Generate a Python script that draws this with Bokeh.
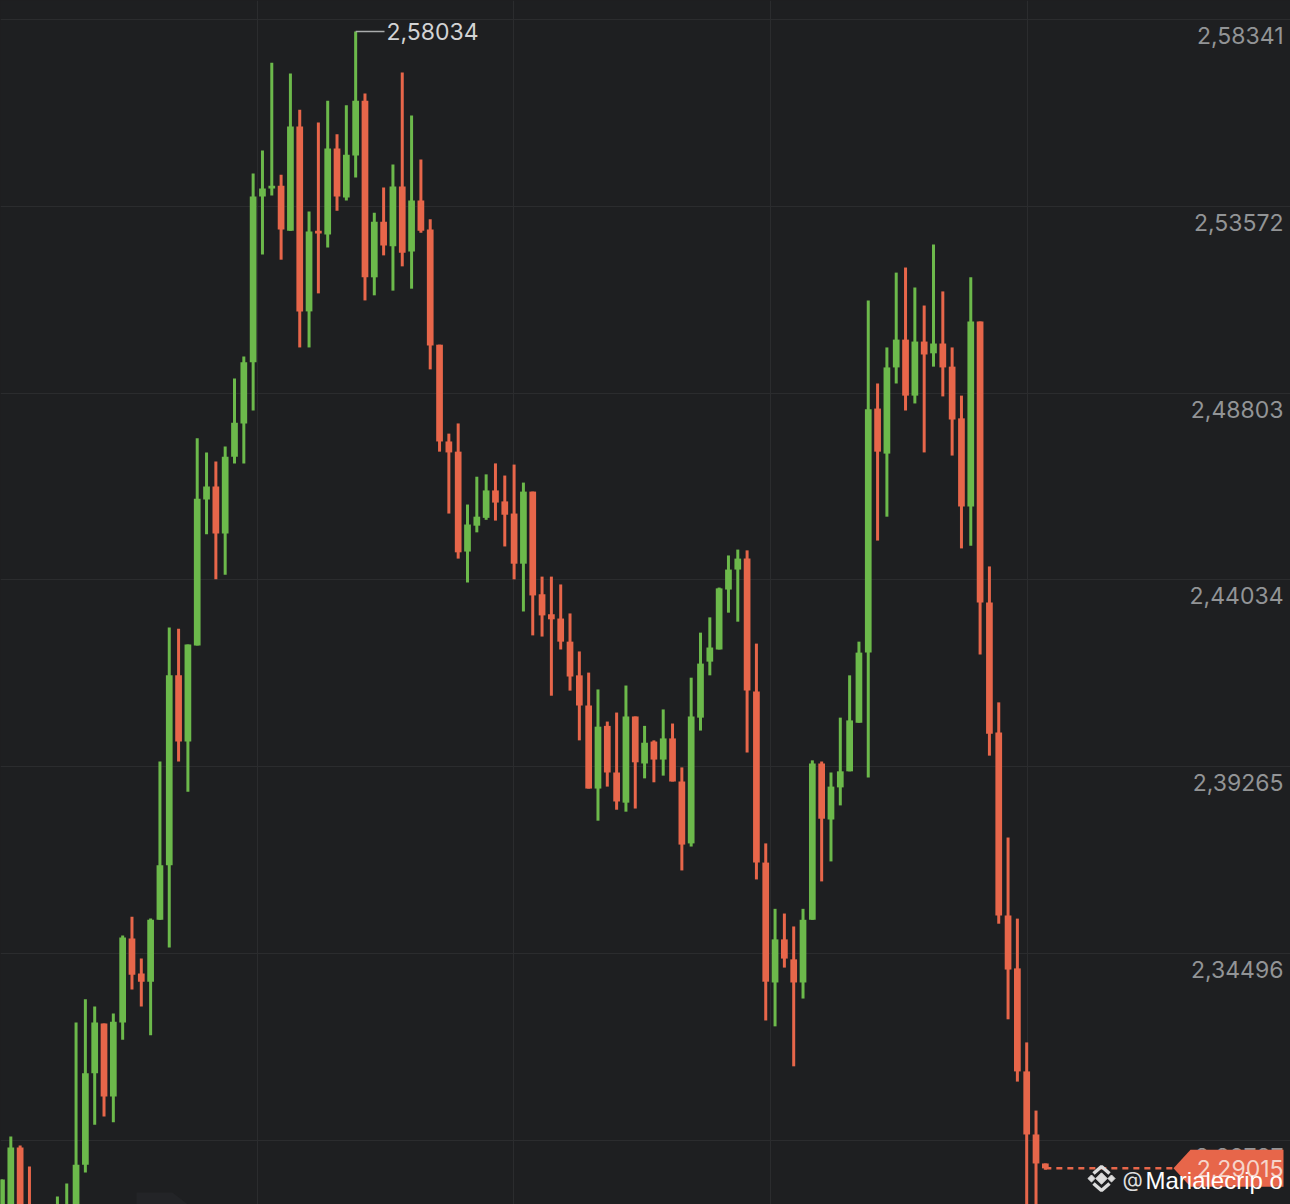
from bokeh.plotting import figure
from bokeh.models import ColumnDataSource, FixedTicker, Range1d
from bokeh.core.properties import value
from bokeh.embed import file_html
from bokeh.resources import INLINE
from math import pi

# ---- chart values (prices) ----
directions = ("GGRRGGGGGG" "GRGGRRGGGR" "GGGRGGGGGG" "RGRGRGRGGR" "GRGRGRRRRR"
              "GGGRRRGRRR" "RRRRGRRGRG" "RGRRGGGGGG" "RRRGRRGGRG" "GGGGRGGRGR"
              "GRRRGRRRRR" "RRR")
highs = [2.2873,2.2983,2.2960,2.2906,2.2781,2.2768,2.2830,2.2863,2.3274,2.3333,
         2.3315,2.3271,2.3297,2.3496,2.3544,2.3437,2.3539,2.3940,2.4282,2.4279,
         2.4239,2.4765,2.4729,2.4706,2.4744,2.4918,2.4974,2.5441,2.5500,2.5724,
         2.5438,2.5696,2.5604,2.5344,2.5571,2.5627,2.5541,2.5615,2.58034,2.5645,
         2.5341,2.5405,2.5464,2.5699,2.5589,2.5477,2.5324,2.5004,2.4777,2.4803,
         2.4596,2.4667,2.4673,2.4701,2.4670,2.4698,2.4652,2.4629,2.4412,2.4412,
         2.4392,2.4318,2.4221,2.4167,2.4124,2.4042,2.4065,2.4134,2.4055,2.4031,
         2.3994,2.4073,2.4037,2.3925,2.4154,2.4269,2.4308,2.4384,2.4466,2.4481,
         2.4479,2.4241,2.3731,2.3564,2.3552,2.3519,2.3564,2.3943,2.3940,2.3912,
         2.4052,2.4160,2.4246,2.5117,2.4905,2.4997,2.5188,2.5201,2.5150,2.5104,
         2.5260,2.5140,2.4997,2.4874,2.5176,2.5063,2.4438,2.4091,2.3746,2.3539,
         2.3223,2.3049,2.2914]
body_tops = [2.2873,2.2955,2.2955,2.2794,2.2768,2.2743,2.2781,2.2794,2.2911,2.3144,
             2.3274,2.3271,2.3276,2.3491,2.3488,2.3399,2.3536,2.3675,2.4160,2.4160,
             2.4239,2.4611,2.4642,2.4642,2.4718,2.4805,2.4959,2.5382,2.5403,2.5410,
             2.5410,2.5561,2.5561,2.5293,2.5295,2.5505,2.5505,2.5489,2.5627,2.5627,
             2.5318,2.5318,2.5408,2.5408,2.5372,2.5372,2.5298,2.5004,2.4757,2.4731,
             2.4545,2.4565,2.4632,2.4632,2.4604,2.4573,2.4629,2.4629,2.4367,2.4316,
             2.4305,2.4246,2.4160,2.4083,2.4029,2.4031,2.3912,2.4055,2.4055,2.3988,
             2.3991,2.3999,2.3999,2.3889,2.4055,2.4190,2.4231,2.4382,2.4430,2.4458,
             2.4458,2.4119,2.3682,2.3486,2.3486,2.3435,2.3536,2.3935,2.3935,2.3876,
             2.3915,2.4045,2.4218,2.4839,2.4841,2.4946,2.5017,2.5017,2.5012,2.5012,
             2.5007,2.5007,2.4948,2.4816,2.5063,2.5063,2.4346,2.4014,2.3547,2.3412,
             2.3149,2.2988,2.2914]
body_bottoms = [2.2794,2.2794,2.2781,2.2768,2.2717,2.2692,2.2730,2.2755,2.2781,2.2911,
                2.3144,2.3085,2.3085,2.3274,2.3396,2.3378,2.3378,2.3536,2.3675,2.3991,
                2.3991,2.4236,2.4609,2.4522,2.4522,2.4718,2.4803,2.4959,2.5382,2.5403,
                2.5298,2.5295,2.5089,2.5089,2.5288,2.5285,2.5382,2.5380,2.5487,2.5176,
                2.5176,2.5257,2.5255,2.5239,2.5242,2.5295,2.5002,2.4757,2.4729,2.4474,
                2.4476,2.4542,2.4562,2.4601,2.4570,2.4445,2.4445,2.4364,2.4313,2.4303,
                2.4246,2.4157,2.4083,2.3871,2.3871,2.3912,2.3838,2.3835,2.3938,2.3935,
                2.3945,2.3945,2.3889,2.3728,2.3731,2.4052,2.4195,2.4226,2.4379,2.4430,
                2.4121,2.3682,2.3378,2.3376,2.3437,2.3376,2.3376,2.3536,2.3794,2.3792,
                2.3874,2.3915,2.4039,2.4218,2.4731,2.4726,2.4946,2.4874,2.4874,2.4979,
                2.4982,2.4946,2.4813,2.4591,2.4591,2.4346,2.4011,2.3547,2.3409,2.3149,
                2.2988,2.2914,2.29015]
lows = [2.2781,2.2781,2.2768,2.2743,2.2692,2.2666,2.2717,2.2743,2.2755,2.2891,
        2.3013,2.3034,2.3019,2.3230,2.3358,2.3315,2.3241,2.3536,2.3465,2.3940,
        2.3863,2.4236,2.4520,2.4405,2.4417,2.4701,2.4701,2.4836,2.5234,2.5385,
        2.5221,2.5295,2.4997,2.4997,2.5135,2.5252,2.5346,2.5372,2.5431,2.5117,
        2.5130,2.5232,2.5142,2.5204,2.5147,2.5290,2.4941,2.4731,2.4573,2.4458,
        2.4397,2.4525,2.4557,2.4555,2.4489,2.4405,2.4323,2.4262,2.4259,2.4108,
        2.4226,2.4121,2.3994,2.3871,2.3789,2.3876,2.3817,2.3812,2.3820,2.3897,
        2.3887,2.3904,2.3889,2.3662,2.3723,2.4019,2.4160,2.4226,2.4320,2.4297,
        2.3963,2.3639,2.3279,2.3264,2.3414,2.3162,2.3335,2.3536,2.3634,2.3685,
        2.3828,2.3915,2.4039,2.3899,2.4504,2.4565,2.4905,2.4836,2.4854,2.4729,
        2.4948,2.4872,2.4721,2.4484,2.4491,2.4213,2.3955,2.3526,2.3282,2.3123,
        2.2781,2.2781,2.2898]

price_ticks = [2.58341, 2.53572, 2.48803, 2.44034, 2.39265, 2.34496, 2.29727]
price_labels = ["2,58341", "2,53572", "2,48803", "2,44034", "2,39265", "2,34496", "2,29727"]
time_ticks = [27.47, 54.98, 82.55, 110.09]
peak_index, peak_price, peak_label = 38, 2.58034, "2,58034"
last_price, last_label = 2.29015, "2,29015"
watermark_at, watermark_name = "@", "Marialecrip o"

# ---- palette and helpers ----
BG, GRID = "#1e1f21", "#2b2c2e"
GREEN, RED = "#6cb94b", "#e7664a"
W, H = 1290, 1204
PX_PER_BAR, PX_PER_PRICE = 9.32, 1 / 0.00025526
FONT = value("Inter")


def dx(px):
    """page pixel column -> bar index"""
    return (px - 1) / PX_PER_BAR


def dy(py):
    """page pixel row -> price"""
    return 2.58826 - py / PX_PER_PRICE


n = len(highs)
src = ColumnDataSource(dict(
    x=list(range(n)), high=highs, low=lows, top=body_tops, bottom=body_bottoms,
    color=[GREEN if d == "G" else RED for d in directions],
))

p = figure(width=W, height=H, output_backend="svg", toolbar_location=None,
           x_range=Range1d(dx(0), dx(W)), y_range=Range1d(dy(H), dy(0)),
           min_border=0, background_fill_color=BG, border_fill_color=BG, outline_line_color=None,
           styles={"background-color": BG})
p.axis.visible = False
p.xgrid.ticker = FixedTicker(ticks=time_ticks)
p.ygrid.ticker = FixedTicker(ticks=price_ticks)
p.grid.grid_line_color = GRID
p.grid.grid_line_width = 1

# faint logo remnant bottom left
p.patch([dx(136), dx(172), dx(190), dx(136)], [dy(1192), dy(1192), dy(1206), dy(1206)], color="#232427", line_width=0)

# candles
p.segment("x", "high", "x", "low", source=src, line_color="color", line_width=3)
p.vbar(x="x", width=0.72, top="top", bottom="bottom", source=src, fill_color="color", line_color=None)

# peak annotation
p.segment([peak_index], [peak_price], [dx(384)], [peak_price], line_color="#a9abac", line_width=1.5)
p.text([dx(386)], [peak_price], text=[peak_label], text_font=FONT, text_font_size="23px",
       text_color="#d2d3d4", text_align="left", text_baseline="middle")

# axis labels, sitting just under their grid lines
lab = ColumnDataSource(dict(x=[dx(1283)] * len(price_ticks), y=price_ticks, t=price_labels))
p.text("x", "y", text="t", source=lab, text_font=FONT, text_font_size="23px", text_color="#929496",
       text_align="right", text_baseline="middle", y_offset=16)

# last price line and tag
p.line([n - 1, dx(1178)], [last_price, last_price], line_color=RED, line_width=2.5, line_dash=[6, 5])
tag_half = 18.5 / PX_PER_PRICE
p.patch([dx(1173), dx(1190), dx(1283), dx(1283), dx(1190)],
        [last_price, last_price + tag_half, last_price + tag_half, last_price - tag_half, last_price - tag_half],
        color=RED, line_width=0)
p.text([dx(1283)], [last_price], text=[last_label], text_font=FONT, text_font_size="23px",
       text_color="#f6d5ca", text_align="right", text_baseline="middle")

# watermark
lx, ly = 1101, 1178
p.scatter([dx(lx)], [dy(ly)], marker="square", size=8, angle=pi / 4, color="#dcdcdc")
p.scatter([dx(lx - 10), dx(lx + 10)], [dy(ly), dy(ly)], marker="square", size=5, angle=pi / 4, color="#dcdcdc")
p.multi_line([[dx(lx - 8), dx(lx), dx(lx + 8)], [dx(lx - 8), dx(lx), dx(lx + 8)]],
             [[dy(ly - 5), dy(ly - 12), dy(ly - 5)], [dy(ly + 5), dy(ly + 12), dy(ly + 5)]],
             line_color="#dcdcdc", line_width=3.5)
p.text([dx(1122)], [dy(1179)], text=[watermark_at], text_font=FONT, text_font_size="21px",
       text_color="#dddddd", text_align="left", text_baseline="middle")
p.text([dx(1145)], [dy(1180)], text=[watermark_name], text_font=value("Liberation Sans"), text_font_size="24px",
       text_color="#ffffff", text_align="left", text_baseline="middle")

open("out.html", "w").write(file_html(p, INLINE))
